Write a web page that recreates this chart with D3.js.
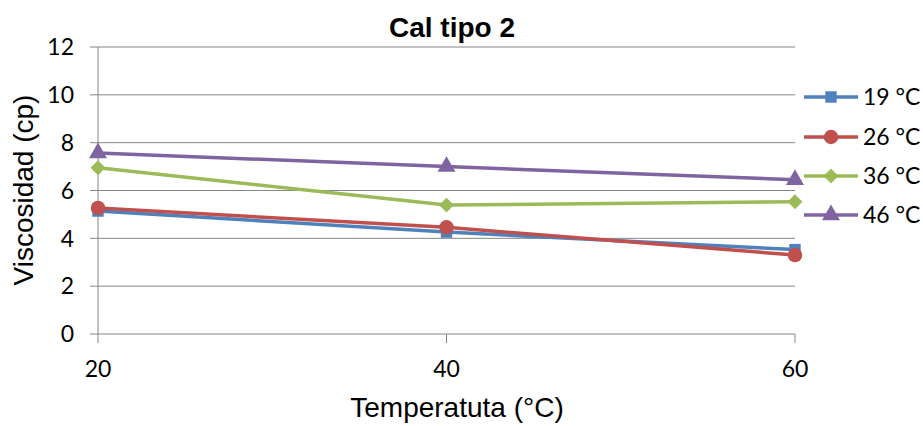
<!DOCTYPE html>
<html>
<head>
<meta charset="utf-8">
<script src="https://cdn.jsdelivr.net/npm/d3@7"></script>
<style>
  body { margin: 0; background: #fff; }
  svg { font-family: Lato, "Open Sans", sans-serif; }
</style>
</head>
<body>
<div id="vis"></div>
<script>
const temps = [20, 40, 60];
const seriesNames = ["19 °C", "26 °C", "36 °C", "46 °C"];
const v19 = [5.14, 4.26, 3.53];
const v26 = [5.27, 4.46, 3.3];
const v36 = [6.95, 5.39, 5.53];
const v46 = [7.57, 7.0, 6.45];
const yTicks = [0, 2, 4, 6, 8, 10, 12];

const colors = ["#4F81BD", "#C0504D", "#9BBB59", "#8064A2"];
const shapes = [d3.symbolSquare, d3.symbolCircle, d3.symbolSquare, d3.symbolTriangle];
const markSizes = [130, 165, 110, 140];
const markRot = [0, 0, 45, 0];
const series = [v19, v26, v36, v46].map((vals, i) => ({
  name: seriesNames[i],
  color: colors[i],
  shape: shapes[i],
  size: markSizes[i],
  rot: markRot[i],
  values: vals.map((v, j) => ({x: temps[j], y: v}))
}));

const width = 923, height = 426;
const plot = {left: 98, right: 795, top: 47, bottom: 334};
const arial = '"Liberation Sans", Arial, sans-serif';

const svg = d3.select('#vis').append('svg')
  .attr('width', width)
  .attr('height', height);

const xScale = d3.scaleLinear().domain([20, 60]).range([plot.left, plot.right]);
const yScale = d3.scaleLinear().domain([0, 12]).range([plot.bottom, plot.top]);

// horizontal grid
svg.append('g')
  .selectAll('line')
  .data(yTicks)
  .join('line')
  .attr('x1', plot.left - 8)
  .attr('x2', plot.right)
  .attr('y1', d => yScale(d))
  .attr('y2', d => yScale(d))
  .attr('stroke', '#868686')
  .attr('stroke-width', 1);

// y axis line
svg.append('line')
  .attr('x1', plot.left).attr('x2', plot.left)
  .attr('y1', plot.top).attr('y2', plot.bottom)
  .attr('stroke', '#868686');

// x tick marks
svg.append('g')
  .selectAll('line')
  .data(temps)
  .join('line')
  .attr('x1', d => xScale(d)).attr('x2', d => xScale(d))
  .attr('y1', plot.bottom).attr('y2', plot.bottom + 9)
  .attr('stroke', '#868686');

// y tick labels
svg.append('g')
  .selectAll('text')
  .data(yTicks)
  .join('text')
  .attr('x', 74)
  .attr('y', d => yScale(d))
  .attr('dy', '0.36em')
  .attr('text-anchor', 'end')
  .style('font-size', '23px')
  .text(d => d);

// x tick labels
svg.append('g')
  .selectAll('text')
  .data(temps)
  .join('text')
  .attr('x', d => xScale(d))
  .attr('y', 377)
  .attr('text-anchor', 'middle')
  .style('font-size', '23px')
  .text(d => d);

const line = d3.line().x(d => xScale(d.x)).y(d => yScale(d.y));

const g = svg.selectAll('.series')
  .data(series)
  .join('g')
  .attr('class', 'series');

g.append('path')
  .attr('d', d => line(d.values))
  .attr('fill', 'none')
  .attr('stroke', d => d.color)
  .attr('stroke-width', 3.5);

g.each(function(s) {
  d3.select(this).selectAll('path.mark')
    .data(s.values)
    .join('path')
    .attr('class', 'mark')
    .attr('transform', d => `translate(${xScale(d.x)},${yScale(d.y)}) rotate(${s.rot})`)
    .attr('d', d3.symbol().type(s.shape).size(s.size))
    .attr('fill', s.color);
});

// legend
const legendY = [97, 137, 176, 215];
const leg = svg.selectAll('.leg')
  .data(series)
  .join('g')
  .attr('class', 'leg')
  .attr('transform', (d, i) => `translate(804,${legendY[i]})`);

leg.append('line')
  .attr('x1', 0).attr('x2', 54)
  .attr('stroke', d => d.color)
  .attr('stroke-width', 3.5);
leg.append('path')
  .attr('transform', d => `translate(27,0) rotate(${d.rot})`)
  .attr('d', d => d3.symbol().type(d.shape).size(d.size)())
  .attr('fill', d => d.color);
leg.append('text')
  .attr('x', 59)
  .attr('dy', '0.36em')
  .style('font-size', '23px')
  .text(d => d.name);

// title
svg.append('text')
  .attr('x', 452)
  .attr('y', 37)
  .attr('text-anchor', 'middle')
  .style('font-family', arial)
  .style('font-weight', 'bold')
  .style('font-size', '28px')
  .text('Cal tipo 2');

// axis titles
svg.append('text')
  .attr('x', 457)
  .attr('y', 417)
  .attr('text-anchor', 'middle')
  .style('font-family', arial)
  .style('font-size', '28px')
  .text('Temperatuta (°C)');

svg.append('text')
  .attr('transform', 'translate(33,190) rotate(-90)')
  .attr('text-anchor', 'middle')
  .style('font-family', arial)
  .style('font-size', '28px')
  .text('Viscosidad (cp)');
</script>
</body>
</html>
